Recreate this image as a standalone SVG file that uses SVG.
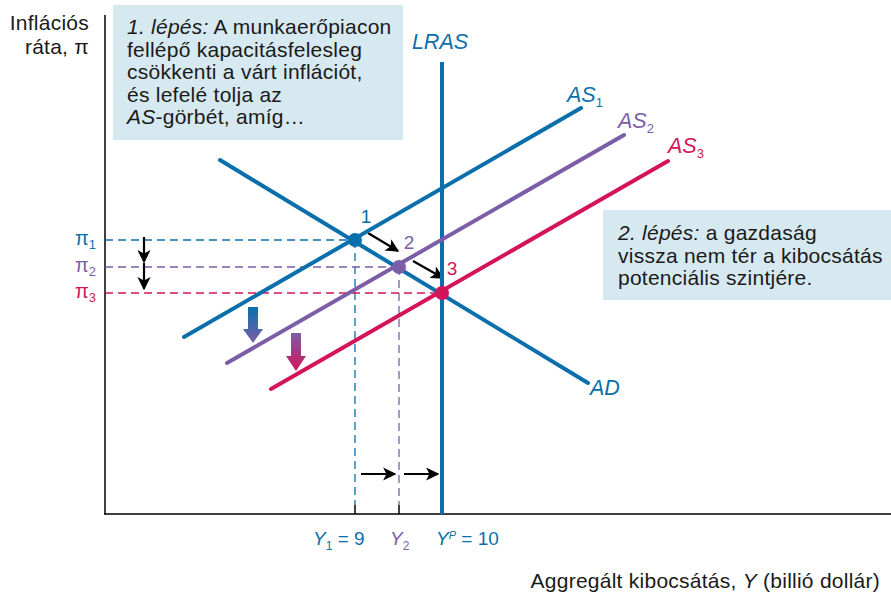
<svg xmlns="http://www.w3.org/2000/svg" width="891" height="596" viewBox="0 0 891 596">
<style>
text{font-family:"Liberation Sans",Arial,sans-serif;}
.t{font-size:21px;letter-spacing:0.25px;fill:#1a1a1a}
.it{font-style:italic}
.curve{fill:none;stroke-width:4;stroke-linecap:round}
.dash{fill:none;stroke-width:1.3;stroke-dasharray:8 5}
.blue{stroke:#0b6fac}
.purple{stroke:#7b5ea7}
.red{stroke:#d4145a}
.fb{fill:#0b6fac}
.fp{fill:#7b5ea7}
.fr{fill:#d4145a}
.arr{stroke:#000;stroke-width:2.2;fill:none}
.box{fill:#d6e8f0}
</style>
<defs>
<marker id="ah" viewBox="0 0 10 10" refX="9" refY="5" markerWidth="6" markerHeight="6" markerUnits="strokeWidth" orient="auto">
<path d="M0,0 L10,5 L0,10 L2.5,5 Z" fill="#000"/>
</marker>
<linearGradient id="g1" x1="0" y1="0" x2="0" y2="1">
<stop offset="0" stop-color="#0b6fac"/><stop offset="1" stop-color="#7b5ea7"/>
</linearGradient>
<linearGradient id="g2" x1="0" y1="0" x2="0" y2="1">
<stop offset="0" stop-color="#7b5ea7"/><stop offset="1" stop-color="#d4145a"/>
</linearGradient>
</defs>

<g id="box1">
<rect class="box" x="113" y="5" width="290" height="135"/>
<text class="t" x="127" y="34"><tspan class="it">1. lépés:</tspan> A munkaerőpiacon</text>
<text class="t" x="127" y="56.5">fellépő kapacitásfelesleg</text>
<text class="t" x="127" y="79">csökkenti a várt inflációt,</text>
<text class="t" x="127" y="101.5">és lefelé tolja az</text>
<text class="t" x="127" y="124"><tspan class="it">AS</tspan>-görbét, amíg…</text>
</g>
<g id="box2">
<rect class="box" x="603" y="210" width="288" height="90"/>
<text class="t" x="618" y="240"><tspan class="it">2. lépés:</tspan> a gazdaság</text>
<text class="t" x="618" y="262.5">vissza nem tér a kibocsátás</text>
<text class="t" x="618" y="285">potenciális szintjére.</text>
</g>

<g id="axes">
<line x1="105" y1="15" x2="105" y2="514" stroke="#000" stroke-width="1.5"/>
<line x1="104" y1="514" x2="891" y2="514" stroke="#000" stroke-width="1.5"/>
<line x1="355" y1="505" x2="355" y2="514" stroke="#000" stroke-width="1.5"/>
<line x1="399" y1="505" x2="399" y2="514" stroke="#000" stroke-width="1.5"/>
<text class="t" x="89" y="30" text-anchor="end">Inflációs</text>
<text class="t" x="89" y="54" text-anchor="end">ráta, π</text>
<text class="t" x="880" y="588" text-anchor="end">Aggregált kibocsátás, <tspan class="it">Y</tspan> (billió dollár)</text>
</g>

<g id="connectors">
<line class="dash blue" x1="105" y1="240" x2="355" y2="240"/>
<line class="dash blue" x1="355" y1="240" x2="355" y2="505"/>
<line class="dash purple" x1="105" y1="267" x2="399" y2="267"/>
<line class="dash purple" x1="399" y1="267" x2="399" y2="505"/>
<line class="dash red" x1="105" y1="293" x2="442" y2="293"/>
<line class="arr" x1="144" y1="237" x2="144" y2="262" marker-end="url(#ah)"/>
<line class="arr" x1="144" y1="263" x2="144" y2="289" marker-end="url(#ah)"/>
<line class="arr" x1="368" y1="233" x2="398" y2="251" marker-end="url(#ah)"/>
<line class="arr" x1="413" y1="261" x2="443" y2="278" marker-end="url(#ah)"/>
<line class="arr" x1="361" y1="474" x2="395" y2="474" marker-end="url(#ah)"/>
<line class="arr" x1="404" y1="474" x2="438" y2="474" marker-end="url(#ah)"/>
<path d="M248,307 H258 V329 H263 L253,343 L243,329 H248 Z" fill="url(#g1)"/>
<path d="M291,333 H301 V356 H306 L296,371 L286,356 H291 Z" fill="url(#g2)"/>
</g>

<g id="LRAS">
<line x1="442" y1="62" x2="442" y2="514" class="blue" stroke-width="4"/>
<text x="440" y="49" font-size="21.5" class="it fb" text-anchor="middle">LRAS</text>
</g>
<g id="AS1">
<line class="curve blue" x1="184" y1="337" x2="581" y2="108"/>
<text x="567" y="102" font-size="21.5" class="it fb">AS<tspan font-size="13" font-style="normal" dy="5">1</tspan></text>
</g>
<g id="AS2">
<line class="curve purple" x1="227" y1="363" x2="624" y2="135"/>
<text x="618" y="128" font-size="21.5" class="it fp">AS<tspan font-size="13" font-style="normal" dy="5">2</tspan></text>
</g>
<g id="AS3">
<line class="curve red" x1="271" y1="389" x2="668" y2="161"/>
<text x="668" y="153" font-size="21.5" class="it fr">AS<tspan font-size="13" font-style="normal" dy="5">3</tspan></text>
</g>
<g id="AD">
<line class="curve blue" x1="220" y1="160" x2="588" y2="383"/>
<text x="590" y="395" font-size="21.5" class="it fb">AD</text>
</g>

<g id="point1">
<circle cx="355" cy="240" r="7" class="fb"/>
<text x="366" y="223" font-size="19" class="fb" text-anchor="middle">1</text>
</g>
<g id="point2">
<circle cx="399" cy="267" r="7" class="fp"/>
<text x="409" y="249" font-size="19" class="fp" text-anchor="middle">2</text>
</g>
<g id="point3">
<circle cx="442" cy="293" r="7" class="fr"/>
<text x="452" y="275" font-size="19" class="fr" text-anchor="middle">3</text>
</g>

<g id="ylabels">
<text x="75" y="245" font-size="20" class="fb">π<tspan font-size="13" dy="4">1</tspan></text>
<text x="75" y="272" font-size="20" class="fp">π<tspan font-size="13" dy="4">2</tspan></text>
<text x="75" y="298" font-size="20" class="fr">π<tspan font-size="13" dy="4">3</tspan></text>
</g>
<g id="xlabels">
<text x="313" y="545" font-size="19" class="fb"><tspan font-style="italic">Y</tspan><tspan font-size="12" dy="5">1</tspan><tspan dy="-5"> = 9</tspan></text>
<text x="390" y="545" font-size="19" class="fp"><tspan font-style="italic">Y</tspan><tspan font-size="12" dy="5">2</tspan></text>
<text x="436" y="545" font-size="19" class="fb"><tspan font-style="italic">Y</tspan><tspan font-size="11" dy="-6" font-style="italic">P</tspan><tspan dy="6"> = 10</tspan></text>
</g>
</svg>
